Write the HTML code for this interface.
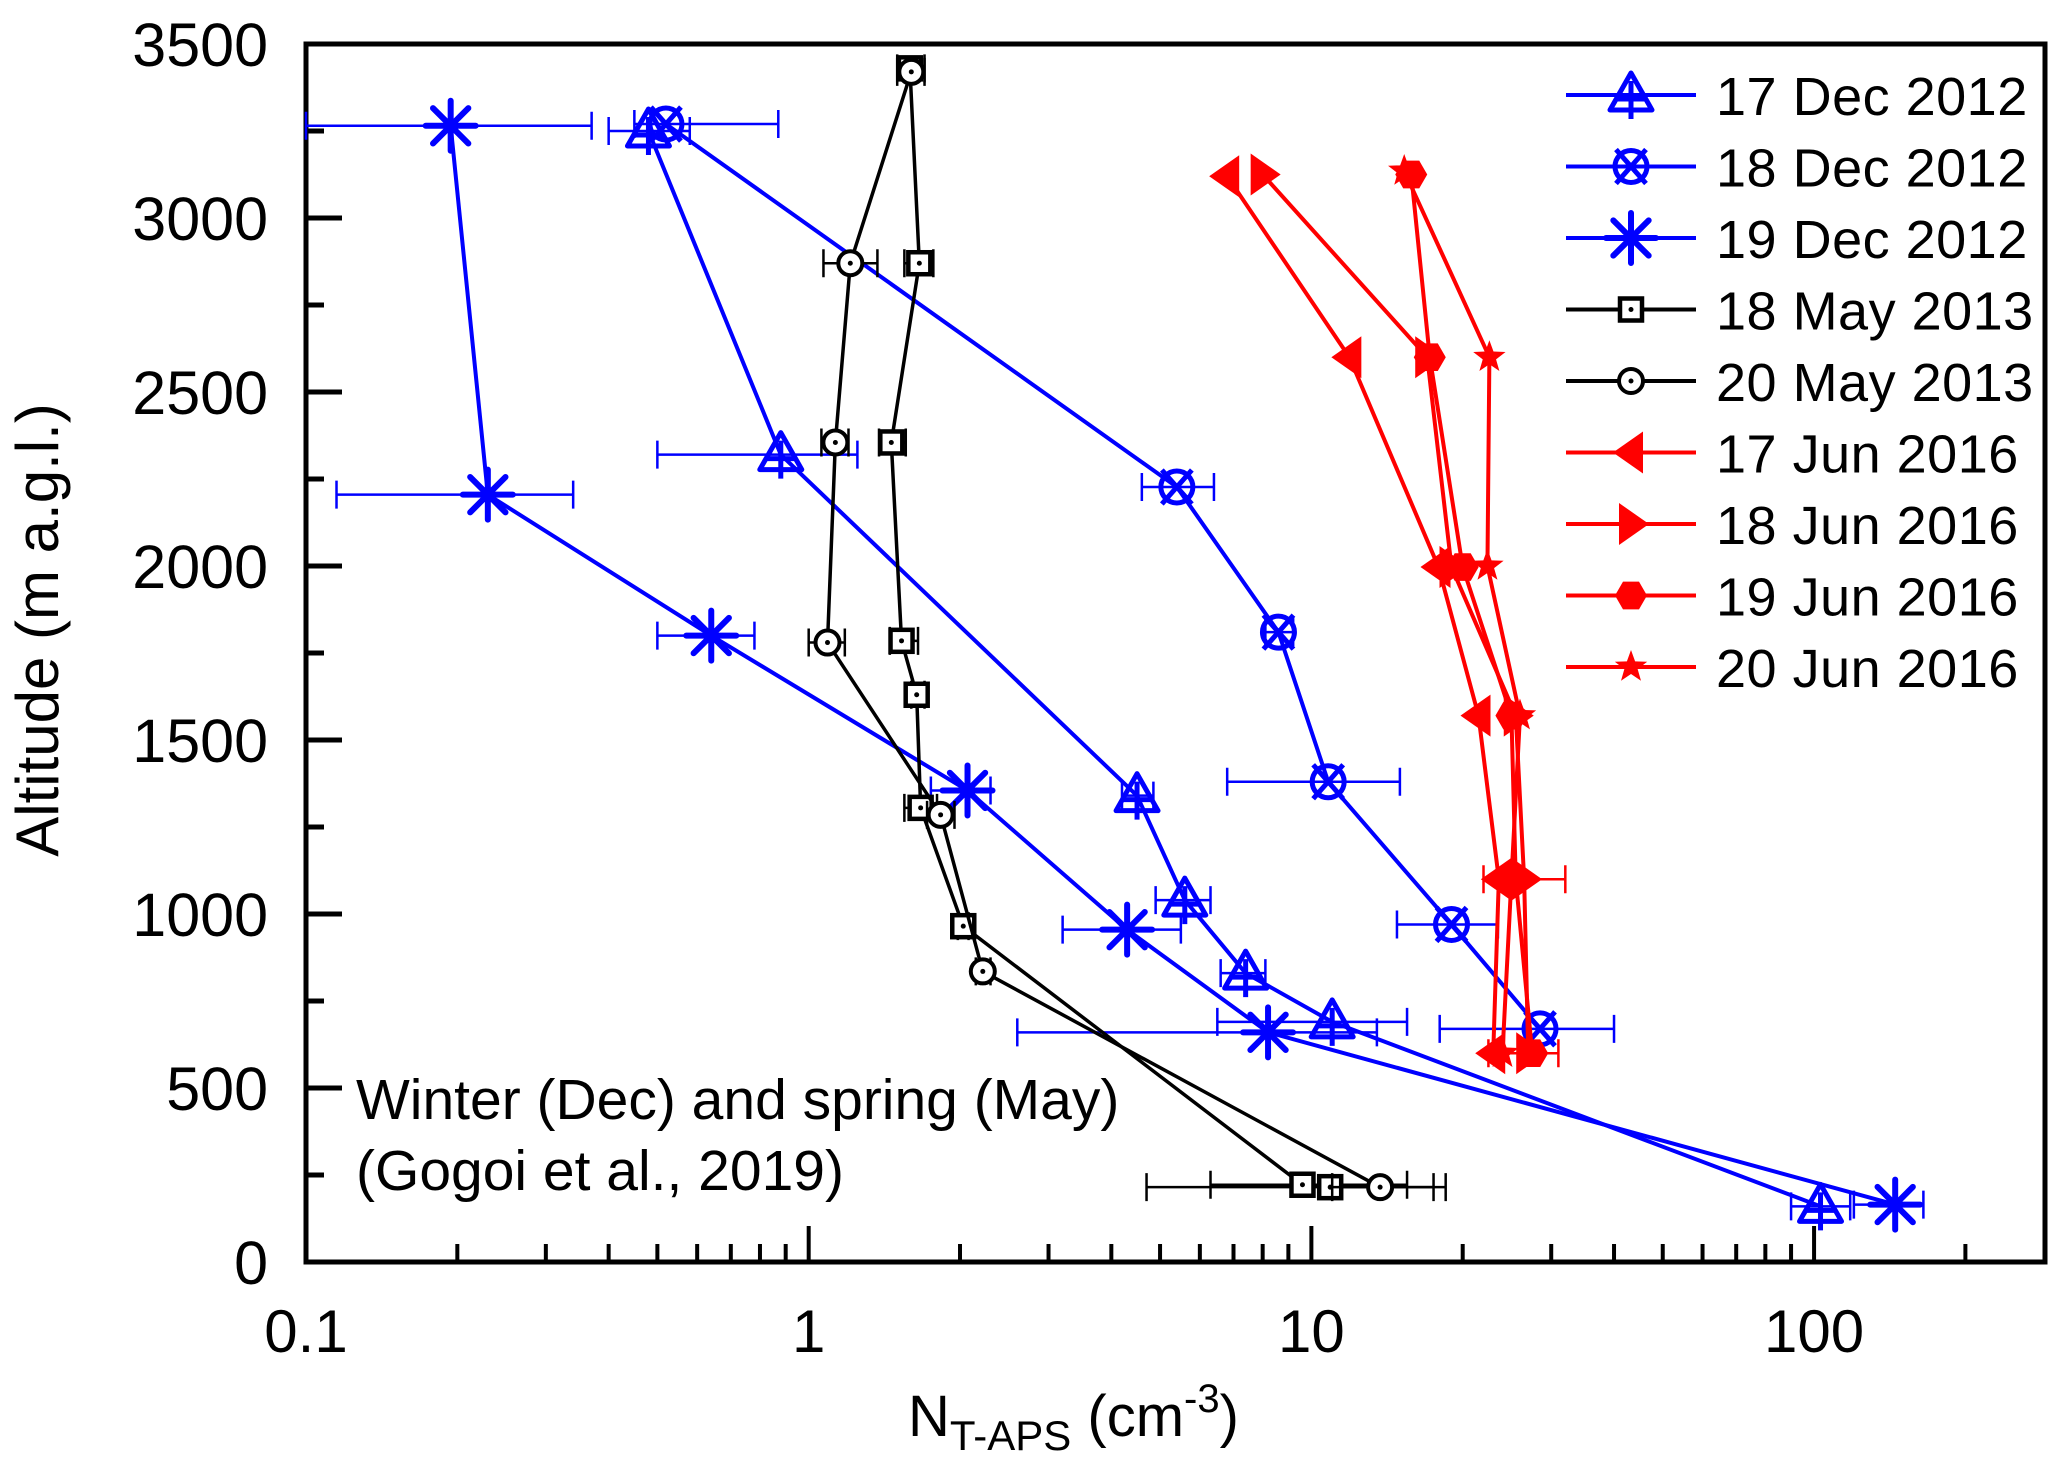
<!DOCTYPE html>
<html><head><meta charset="utf-8"><style>
html,body{margin:0;padding:0;background:#fff;}
svg{display:block;font-family:"Liberation Sans",Arial,sans-serif;}
</style></head><body>
<svg id="chart" width="2067" height="1474" viewBox="0 0 2067 1474" xmlns="http://www.w3.org/2000/svg">
<rect width="2067" height="1474" fill="#fff"/>
<g id="grid"></g>
<g id="series"></g>
<g id="legend"></g>
<text transform="translate(58,630) rotate(-90)" text-anchor="middle" font-size="60">Altitude (m a.g.l.)</text>
<text x="908" y="1436" font-size="58">N<tspan font-size="42" dy="14">T-APS</tspan><tspan dy="-14"> (cm</tspan><tspan font-size="40" dy="-24">-3</tspan><tspan dy="24">)</tspan></text>
<text x="356" y="1119" font-size="57">Winter (Dec) and spring (May)</text>
<text x="356" y="1190" font-size="57">(Gogoi et al., 2019)</text>
</svg>
<script>
const xTickVals=[0.1,1,10,100];
const xTickLabels=["0.1","1","10","100"];
const yTickVals=[0,500,1000,1500,2000,2500,3000,3500];
const seriesNames=["17 Dec 2012","18 Dec 2012","19 Dec 2012","18 May 2013","20 May 2013","17 Jun 2016","18 Jun 2016","19 Jun 2016","20 Jun 2016"];
const dec17X=[0.48,0.88,4.5,5.6,7.4,11,103];
const dec17Y=[3250,2320,1340,1040,830,690,160];
const dec17Err=[[0.4,0.58],[0.5,1.25],[4.2,4.85],[4.9,6.3],[6.6,8.1],[6.5,15.5],[90,118]];
const dec18X=[0.52,5.4,8.6,10.8,19,28.5];
const dec18Y=[3270,2227,1810,1380,970,670];
const dec18Err=[[0.45,0.87],[4.6,6.4],[8.1,9.2],[6.8,15],[14.8,23.5],[18,40]];
const dec19X=[0.194,0.23,0.64,2.07,4.3,8.2,145];
const dec19Y=[3265,2205,1800,1355,955,660,165];
const dec19Err=[[0.05,0.37],[0.115,0.34],[0.5,0.78],[1.75,2.3],[3.2,5.5],[2.6,13.5],[120,165]];
const may18X=[1.59,1.66,1.46,1.53,1.64,1.67,2.03,9.6,10.9];
const may18Y=[3430,2870,2355,1785,1630,1305,965,222,215];
const may18Err=[[1.5,1.7],[1.55,1.77],[1.38,1.56],[1.45,1.65],[1.6,1.7],[1.55,1.8],[1.98,2.08],[6.3,15.5],[4.7,18.5]];
const may20X=[1.6,1.21,1.13,1.09,1.83,2.22,13.7];
const may20Y=[3420,2870,2355,1780,1285,835,215];
const may20Err=[[1.5,1.7],[1.07,1.37],[1.06,1.2],[1.0,1.18],[1.72,1.95],[2.15,2.3],[11,17.5]];
const jun17X=[6.8,11.9,17.9,21.5,23.6,23];
const jun17Y=[3120,2600,1997,1570,1100,600];
const jun18X=[8.0,17,19,25.5,26.5,27];
const jun18Y=[3125,2600,1997,1570,1100,600];
const jun19X=[15.8,17.2,20,25,25.5,27.5];
const jun19Y=[3125,2600,1997,1570,1100,600];
const jun20X=[15.3,22.6,22.4,26,25,24];
const jun20Y=[3135,2600,2000,1570,1100,600];
const jun19Err=[null,null,null,null,[22,32],[22.5,31]];

const L=306,R=2045,T=44,B=1262,XMIN=0.1,XMAX=288,YMAX=3500;
const DEC=(R-L)/Math.log10(XMAX/XMIN);
function sx(v){return L+Math.log10(v/XMIN)*DEC;}
function sy(v){return B-(v/YMAX)*(B-T);}
const NS="http://www.w3.org/2000/svg";
function mk(tag,attrs,parent){const e=document.createElementNS(NS,tag);for(const k in attrs)e.setAttribute(k,attrs[k]);parent.appendChild(e);return e;}

const grid=document.getElementById('grid');
const frame=mk('path',{d:`M${L},${T}H${R}V${B}H${L}Z`,fill:'none',stroke:'#000','stroke-width':5},grid);


for(let v=0;v<=YMAX;v+=250){
  const major=v%500===0;
  const t=mk('line',{x1:L,x2:L+(major?36:18),y1:sy(v),y2:sy(v),stroke:'#000','stroke-width':5},grid);
  
  
}
yTickVals.forEach(v=>{
  const t=mk('text',{x:268,y:sy(v)+22,'text-anchor':'end','font-size':61},grid);
  t.textContent=String(v);
  
  
});
for(let d=-1;d<=2;d++){
  for(let m=1;m<=9;m++){
    const v=m*Math.pow(10,d);
    if(v>XMAX||v<XMIN)continue;
    const major=m===1;
    const t=mk('line',{x1:sx(v),x2:sx(v),y1:B,y2:B-(major?36:18),stroke:'#000','stroke-width':4},grid);
    
    
  }
}
xTickVals.forEach((v,i)=>{
  const t=mk('text',{x:sx(v),y:1352,'text-anchor':'middle','font-size':60},grid);
  t.textContent=xTickLabels[i];
  
  
});

function marker(type,x,y,color,g){
  const sw=5;
  if(type==='tri'){mk('path',{d:`M${x},${y-22}L${x+21},${y+15}L${x-21},${y+15}Z`,fill:'none',stroke:color,'stroke-width':sw,'stroke-linejoin':'round'},g);
    mk('path',{d:`M${x},${y-14}V${y+24}M${x-15},${y+4}H${x+15}`,stroke:color,'stroke-width':sw},g);}
  else if(type==='cx'){mk('circle',{cx:x,cy:y,r:16,fill:'none',stroke:color,'stroke-width':sw},g);
    mk('path',{d:`M${x-15},${y-17}L${x+15},${y+17}M${x+15},${y-17}L${x-15},${y+17}`,stroke:color,'stroke-width':sw},g);}
  else if(type==='ast'){let d='';for(let k=0;k<4;k++){const a=k*Math.PI/4;const dx=Math.sin(a)*25,dy=Math.cos(a)*25;d+=`M${x-dx},${y-dy}L${x+dx},${y+dy}`;}
    mk('path',{d:d,stroke:color,'stroke-width':6,'stroke-linecap':'round'},g);}
  else if(type==='sq'){mk('rect',{x:x-11,y:y-11,width:22,height:22,fill:'#fff',stroke:color,'stroke-width':4.5},g);mk('circle',{cx:x,cy:y,r:2.5,fill:color},g);}
  else if(type==='ci'){mk('circle',{cx:x,cy:y,r:12,fill:'#fff',stroke:color,'stroke-width':4},g);mk('circle',{cx:x,cy:y,r:2.5,fill:color},g);}
  else if(type==='lt'){mk('path',{d:`M${x-18},${y}L${x+12},${y-21}V${y+21}Z`,fill:color},g);}
  else if(type==='rt'){mk('path',{d:`M${x+18},${y}L${x-12},${y-21}V${y+21}Z`,fill:color},g);}
  else if(type==='hex'){let d='';for(let k=0;k<6;k++){const a=k*Math.PI/3;d+=(k?'L':'M')+(x+Math.cos(a)*16)+','+(y+Math.sin(a)*16);}mk('path',{d:d+'Z',fill:color},g);}
  else if(type==='star'){let d='';for(let k=0;k<10;k++){const a=-Math.PI/2+k*Math.PI/5;const r=k%2?7:17;d+=(k?'L':'M')+(x+Math.cos(a)*r)+','+(y+Math.sin(a)*r);}mk('path',{d:d+'Z',fill:color},g);}
}

const cfg=[
  {xs:dec17X,ys:dec17Y,err:dec17Err,color:'#0000ff',m:'tri',w:4,name:'series-17-dec-2012'},
  {xs:dec18X,ys:dec18Y,err:dec18Err,color:'#0000ff',m:'cx',w:4,name:'series-18-dec-2012'},
  {xs:dec19X,ys:dec19Y,err:dec19Err,color:'#0000ff',m:'ast',w:4,name:'series-19-dec-2012'},
  {xs:may18X,ys:may18Y,err:may18Err,color:'#000',m:'sq',w:3.5,name:'series-18-may-2013'},
  {xs:may20X,ys:may20Y,err:may20Err,color:'#000',m:'ci',w:3.5,name:'series-20-may-2013'},
  {xs:jun17X,ys:jun17Y,err:null,color:'#ff0000',m:'lt',w:4,name:'series-17-jun-2016'},
  {xs:jun18X,ys:jun18Y,err:null,color:'#ff0000',m:'rt',w:4,name:'series-18-jun-2016'},
  {xs:jun19X,ys:jun19Y,err:jun19Err,color:'#ff0000',m:'hex',w:4,name:'series-19-jun-2016'},
  {xs:jun20X,ys:jun20Y,err:null,color:'#ff0000',m:'star',w:4,name:'series-20-jun-2016'}
];
const sg=document.getElementById('series');
cfg.forEach(c=>{
  const g=mk('g',{},sg);
  
  
  if(c.err){c.err.forEach((e,i)=>{if(!e)return;const y=sy(c.ys[i]);const x1=Math.max(L,sx(e[0])),x2=sx(e[1]);
    mk('path',{d:`M${x1},${y}H${x2}M${x1},${y-14}V${y+14}M${x2},${y-14}V${y+14}`,stroke:c.color,'stroke-width':2.5,fill:'none'},g);});}
  const pts=c.xs.map((v,i)=>sx(v)+','+sy(c.ys[i])).join(' ');
  const pl=mk('polyline',{points:pts,fill:'none',stroke:c.color,'stroke-width':c.w,'stroke-linejoin':'round'},g);
  
  
  c.xs.forEach((v,i)=>marker(c.m,sx(v),sy(c.ys[i]),c.color,g));
});

const lg=document.getElementById('legend');
cfg.forEach((c,i)=>{
  const y=95+i*71.5;
  const g=mk('g',{},lg);
  
  
  mk('line',{x1:1566,x2:1696,y1:y,y2:y,stroke:c.color,'stroke-width':4},g);
  marker(c.m,1631,y,c.color,g);
  const t=mk('text',{x:1716,y:y+20,'font-size':54,'letter-spacing':0.5},g);
  t.textContent=seriesNames[i];
});
</script>
</body></html>
